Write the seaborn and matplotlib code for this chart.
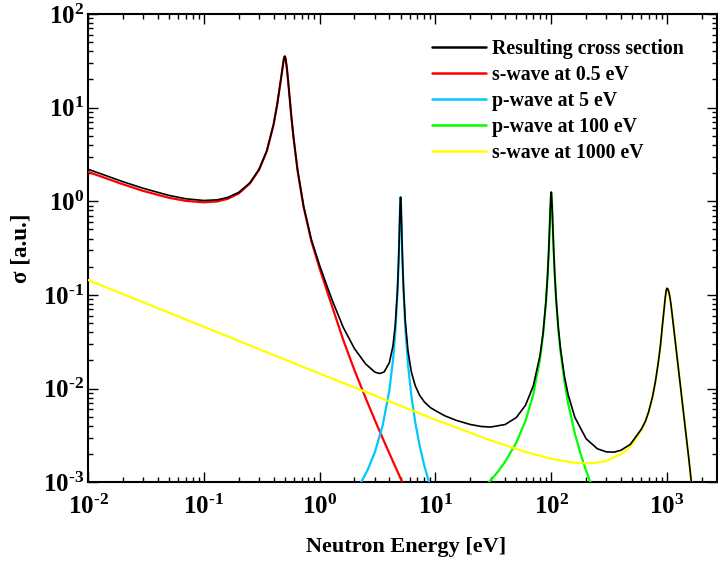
import numpy as np
import pandas as pd
import matplotlib
matplotlib.use("Agg")
import matplotlib.pyplot as plt
import seaborn as sns
from matplotlib.ticker import LogLocator, FuncFormatter, NullFormatter

# values (energy in eV, cross section in a.u.)
red_e = [0.01, 0.02, 0.03, 0.05, 0.07, 0.1, 0.13, 0.16, 0.2, 0.25, 0.3, 0.35, 0.4, 0.43,
         0.46, 0.475, 0.49, 0.495, 0.5, 0.505, 0.51, 0.523, 0.535, 0.547, 0.57, 0.596,
         0.646, 0.727, 0.848, 1.0, 1.17, 1.3, 1.6, 2.0, 2.5, 3.0, 3.5, 4.0, 4.5, 5.0, 5.3]
red_s = [2.06, 1.52, 1.29, 1.09, 1.01, 0.974, 0.996, 1.06, 1.21, 1.55, 2.17, 3.44, 6.58, 10.8,
         19.0, 25.0, 32.6, 34.6, 35.3, 34.4, 32.5, 25.5, 19.0, 14.0, 8.0, 4.7,
         2.1, 0.87, 0.375, 0.192, 0.106, 0.0715, 0.033, 0.0157, 0.0079, 0.0046, 0.00296,
         0.00204, 0.00147, 0.0011, 0.00094]

cyan_e = [2.2, 2.6, 3.0, 3.5, 4.0, 4.3, 4.5, 4.7, 4.8, 4.85, 4.9, 4.95, 5.0, 5.05, 5.1,
          5.15, 5.2, 5.3, 5.5, 5.8, 6.2, 6.7, 7.3, 8.0, 8.8, 9.0]
cyan_s = [0.00092, 0.00136, 0.0021, 0.00403, 0.0096, 0.0201, 0.0396, 0.105, 0.213, 0.33,
          0.541, 0.873, 1.10, 0.882, 0.552, 0.34, 0.222, 0.112, 0.0438, 0.018, 0.00833,
          0.00433, 0.00247, 0.00152, 0.001, 0.00091]

green_e = [28, 30, 35, 40, 50, 60, 70, 80, 85, 90, 93, 95, 97, 98, 99, 100, 101, 102, 103,
           105, 107, 110, 115, 120, 130, 140, 160, 180, 200, 220, 230]
green_s = [0.00096, 0.00105, 0.00132, 0.00166, 0.00266, 0.00455, 0.0087, 0.0207, 0.0374,
           0.083, 0.16, 0.28, 0.551, 0.787, 1.06, 1.25, 1.07, 0.803, 0.568, 0.294, 0.172,
           0.0918, 0.0435, 0.0254, 0.0119, 0.00695, 0.00331, 0.00198, 0.00133, 0.00097, 0.00085]

yellow_e = [0.01, 0.1, 1, 10, 30, 60, 100, 150, 200, 250, 300, 400, 482, 600, 650, 694, 750,
            793, 835, 875, 910, 935, 967, 985, 993, 1000, 1020, 1040, 1060, 1080, 1104, 1140,
            1180, 1240, 1300, 1380, 1460, 1540, 1622, 1680]
yellow_s = [0.1444, 0.0457, 0.01447, 0.00466, 0.0028, 0.00211, 0.00178, 0.00163, 0.00159,
            0.00162, 0.0017, 0.00199, 0.0024, 0.0036, 0.0044, 0.0056, 0.0082, 0.0118, 0.018,
            0.0281, 0.046, 0.0637, 0.096, 0.112, 0.116, 0.118, 0.115, 0.106, 0.094, 0.080,
            0.0637, 0.0452, 0.0313, 0.0184, 0.0111, 0.00585, 0.0032, 0.00181, 0.001, 0.00071]

black_e = [0.01, 0.02, 0.03, 0.05, 0.07, 0.1, 0.13, 0.16, 0.2, 0.25, 0.3, 0.35, 0.4, 0.43,
           0.46, 0.475, 0.49, 0.495, 0.5, 0.505, 0.51, 0.523, 0.535, 0.547, 0.57, 0.596,
           0.646, 0.727, 0.848, 1.0, 1.17, 1.3, 1.6, 2.0, 2.5, 3.0, 3.3, 3.6, 4.0, 4.3, 4.5,
           4.7, 4.8, 4.85, 4.9, 4.95, 5.0, 5.05, 5.1, 5.15, 5.2, 5.3, 5.5, 5.8, 6.2, 6.7, 7.3,
           8.0, 9, 10, 12, 15, 20, 25, 30, 40, 50, 60, 70, 80, 85, 90, 93, 95, 97, 98, 99,
           100, 101, 102, 103, 105, 107, 110, 115, 120, 130, 140, 160, 200, 250, 300, 350,
           400, 482, 600, 650, 694, 750, 793, 835, 875, 910, 935, 967, 985, 993, 1000, 1020,
           1040, 1060, 1080, 1104, 1140, 1180, 1240, 1300, 1380, 1460, 1540, 1622, 1680]
black_s = [2.2, 1.62, 1.376, 1.156, 1.064, 1.02, 1.036, 1.097, 1.245, 1.576, 2.195, 3.467,
           6.6, 10.82, 19.02, 25.02, 32.62, 34.62, 35.32, 34.42, 32.52, 25.52, 19.02, 14.02,
           8.02, 4.72, 2.12, 0.887, 0.391, 0.207, 0.12, 0.0846, 0.045, 0.0267, 0.0183, 0.015,
           0.0145, 0.01504, 0.0189, 0.0287, 0.0479, 0.1133, 0.221, 0.338, 0.548, 0.881, 1.108,
           0.889, 0.559, 0.348, 0.229, 0.119, 0.051, 0.025, 0.015, 0.0107, 0.0085, 0.00724,
           0.0063, 0.00582, 0.00514, 0.0046, 0.00414, 0.00394, 0.00389, 0.00414, 0.00492,
           0.00666, 0.0107, 0.0226, 0.0392, 0.0849, 0.162, 0.282, 0.553, 0.789, 1.061, 1.252,
           1.072, 0.805, 0.570, 0.296, 0.174, 0.0935, 0.0452, 0.0271, 0.0135, 0.0086, 0.00493,
           0.00292, 0.00228, 0.00211, 0.0021, 0.0022, 0.00254, 0.00369, 0.00448, 0.00566,
           0.00825, 0.01185, 0.018, 0.0281, 0.046, 0.0637, 0.096, 0.112, 0.116, 0.118, 0.115,
           0.106, 0.094, 0.080, 0.0637, 0.0452, 0.0313, 0.0184, 0.0111, 0.00585, 0.0032,
           0.00181, 0.001, 0.00071]

labels = ["Resulting cross section", "s-wave at 0.5 eV", "p-wave at 5 eV",
          "p-wave at 100 eV", "s-wave at 1000 eV"]
colors = ["#000000", "#ff0000", "#00c8ff", "#00ff00", "#ffff00"]

sns.set_style("ticks", rc={"axes.edgecolor": "black", "xtick.color": "black",
                           "ytick.color": "black", "text.color": "black",
                           "axes.labelcolor": "black"})
plt.rcParams["font.family"] = ["Liberation Serif", "DejaVu Serif"]
plt.rcParams["font.weight"] = "bold"
plt.rcParams["axes.labelweight"] = "bold"
plt.rcParams["mathtext.fontset"] = "custom"
plt.rcParams["mathtext.rm"] = "Liberation Serif:bold"
plt.rcParams["mathtext.bf"] = "Liberation Serif:bold"
plt.rcParams["mathtext.it"] = "Liberation Serif:italic:bold"

fig = plt.figure(figsize=(7.18, 5.68), dpi=100)
ax = fig.add_axes([0.1226, 0.1509, 0.876, 0.8245])

curves = [(black_e, black_s), (red_e, red_s), (cyan_e, cyan_s),
          (green_e, green_s), (yellow_e, yellow_s)]
for i, ((e, s), lab, col) in enumerate(zip(curves, labels, colors)):
    df = pd.DataFrame({"E": e, "sigma": s})
    sns.lineplot(data=df, x="E", y="sigma", ax=ax, color=col, label=lab,
                 lw=1.2 if i == 0 else 1.6, zorder=5 if i == 0 else 3,
                 estimator=None, sort=False)

ax.set_xscale("log")
ax.set_yscale("log")
ax.set_xlim(1e-2, 2.7e3)
ax.set_ylim(1e-3, 1e2)


def dec_label(v, p):
    n = int(round(np.log10(v)))
    if n < 0:
        return r"$10^{\text{-}%d}$" % (-n)
    return r"$10^{%d}$" % n


for axis in (ax.xaxis, ax.yaxis):
    axis.set_major_locator(LogLocator(base=10, numticks=20))
    axis.set_minor_locator(LogLocator(base=10, subs=np.arange(2, 10), numticks=20))
    axis.set_major_formatter(FuncFormatter(dec_label))
    axis.set_minor_formatter(NullFormatter())

ax.tick_params(which="both", direction="in", top=True, right=True, width=1.0)
ax.tick_params(which="major", length=7, labelsize=18)
ax.tick_params(which="minor", length=3.5)
ax.tick_params(axis="x", which="major", pad=9)
ax.tick_params(axis="y", which="major", pad=3)
for sp in ax.spines.values():
    sp.set_linewidth(1.5)

ax.set_xlabel("Neutron Energy [eV]", fontsize=16, fontweight="bold")
ax.set_ylabel("σ [a.u.]", fontsize=16.5, fontweight="bold")
ax.xaxis.set_label_coords(0.505, -0.117)
ax.yaxis.set_label_coords(-0.0906, 0.5)

leg = ax.legend(loc="upper left", bbox_to_anchor=(0.547, 0.947), frameon=False,
                fontsize=14.3, handlelength=2.7, handletextpad=0.3, labelspacing=0.30,
                borderpad=0, borderaxespad=0)
for t in leg.get_texts():
    t.set_fontweight("bold")
for h in leg.get_lines():
    h.set_linewidth(1.8)

fig.savefig("out.png", dpi=100)
